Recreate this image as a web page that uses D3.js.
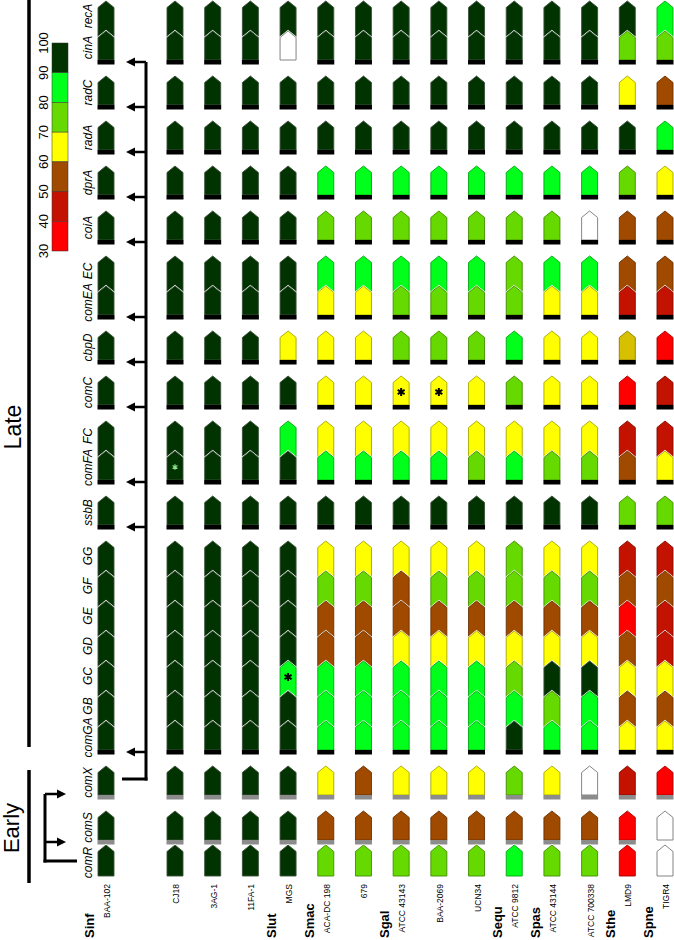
<!DOCTYPE html>
<html>
<head>
<meta charset="utf-8">
<script src="https://cdnjs.cloudflare.com/ajax/libs/d3/7.8.5/d3.min.js"></script>
<style>
body { margin: 0; background: #fff; }
svg text { font-family: Arial, "Liberation Sans", sans-serif; }
</style>
</head>
<body>
<svg width="674" height="940"></svg>
<script>
// strains (columns) and species groups
var strains = ["BAA-102", "CJ18", "3AG-1", "11FA-1", "MGS", "ACA-DC 198", "679",
  "ATCC 43143", "BAA-2069", "UCN34", "ATCC 9812", "ATCC 43144", "ATCC 700338", "LMD9", "TIGR4"];
var speciesNames = ["Sinf", "Slut", "Smac", "Sgal", "Sequ", "Spas", "Sthe", "Spne"];
var speciesFirst = ["BAA-102", "MGS", "ACA-DC 198", "ATCC 43143", "ATCC 9812", "ATCC 43144", "LMD9", "TIGR4"];

// genes (rows, top to bottom) and transcription units
var genes = ["recA", "cinA", "radC", "radA", "dprA", "coiA", "EC", "comEA", "cbpD", "comC",
  "FC", "comFA", "ssbB", "GG", "GF", "GE", "GD", "GC", "GB", "comGA", "comX", "comS", "comR"];
var units = [["recA", "cinA"], ["radC"], ["radA"], ["dprA"], ["coiA"], ["EC", "comEA"], ["cbpD"],
  ["comC"], ["FC", "comFA"], ["ssbB"], ["GG", "GF", "GE", "GD", "GC", "GB", "comGA"], ["comX"], ["comS", "comR"]];
var lateBox = ["cinA", "radC", "radA", "dprA", "coiA", "comEA", "cbpD", "comC", "comFA", "ssbB", "comGA"];
var earlyBox = ["comX", "comS"];
var noBox = [["MGS", "cinA"], ["TIGR4", "comS"]];

// % identity, one row per strain, same order as genes (null = gene absent)
var allHigh = genes.map(function () { return 95; });
var identity = [
  allHigh, allHigh, allHigh, allHigh,
  [95, null, 95, 95, 95, 95, 95, 95, 65, 95, 85, 95, 95, 95, 95, 95, 95, 85, 95, 95, 95, 95, 95],
  [95, 95, 95, 95, 85, 75, 85, 65, 65, 65, 65, 85, 95, 65, 75, 55, 55, 85, 85, 85, 65, 55, 75],
  [95, 95, 95, 95, 85, 75, 85, 65, 65, 65, 65, 85, 95, 65, 75, 55, 55, 85, 85, 85, 55, 55, 75],
  [95, 95, 95, 95, 85, 75, 85, 75, 75, 65, 65, 85, 95, 65, 55, 55, 65, 85, 85, 85, 65, 55, 75],
  [95, 95, 95, 95, 85, 75, 85, 75, 75, 65, 65, 85, 95, 65, 75, 55, 65, 85, 85, 85, 65, 55, 75],
  [95, 95, 95, 95, 85, 75, 85, 75, 75, 65, 65, 75, 95, 65, 75, 55, 65, 85, 85, 85, 65, 55, 75],
  [95, 95, 95, 95, 85, 75, 75, 75, 85, 75, 65, 85, 95, 75, 75, 55, 65, 75, 85, 95, 75, 55, 85],
  [95, 95, 95, 95, 85, 75, 85, 65, 65, 65, 65, 75, 95, 65, 75, 55, 65, 95, 75, 85, 65, 55, 75],
  [95, 95, 95, 95, 85, null, 85, 65, 65, 65, 65, 75, 95, 65, 75, 55, 65, 95, 85, 85, null, 55, 75],
  [95, 75, 65, 95, 75, 55, 55, 45, 60, 35, 45, 55, 75, 45, 55, 35, 55, 65, 55, 65, 45, 35, 35],
  [85, 75, 55, 85, 65, 55, 55, 45, 35, 45, 45, 65, 75, 45, 55, 45, 45, 65, 55, 65, 35, null, null]
];
var borderline = [["LMD9", "cbpD"]];
var asterisks = [["CJ18", "comFA"], ["MGS", "GC"], ["ATCC 43143", "comC"], ["BAA-2069", "comC"]];
var legendTicks = [100, 90, 80, 70, 60, 50, 40, 30];

var svg = d3.select("svg");
svg.append("rect").attr("width", 674).attr("height", 940).attr("fill", "#fff");

var color = d3.scaleThreshold()
  .domain([40, 50, 60, 70, 80, 90])
  .range(["#ff0000", "#c41200", "#a04a00", "#ffff00", "#66d900", "#00ff1a", "#003300"]);

// column positions (extra gap after the first strain for the regulation arrows)
var x = d3.scaleLinear().domain([1, strains.length - 1]).range([175, 665]);
function colX(i) { return i === 0 ? x(1) - 69 : x(i); }

// row positions
var tops = {}, nextOf = {}, pos = 0;
function hasBox(g) { return lateBox.indexOf(g) >= 0 || earlyBox.indexOf(g) >= 0; }
units.forEach(function (u, k) {
  u.forEach(function (g, j) {
    if (j === 0 && k > 0) pos += 45;
    if (j > 0) pos += hasBox(u[j - 1]) ? 34 : 30;
    tops[g] = pos;
    nextOf[g] = j < u.length - 1 ? u[j + 1] : null;
  });
});
var y = d3.scaleLinear().domain([0, pos]).range([1, 1 + pos]);

var hw = 8, tipH = 6.5;
function arrowPath(cx, t, b) {
  return "M" + cx + "," + t + "L" + (cx + hw) + "," + (t + tipH) + "L" + (cx + hw) + "," + b +
    "L" + (cx - hw) + "," + b + "L" + (cx - hw) + "," + (t + tipH) + "Z";
}
function inList(list, s, g) {
  return list.some(function (p) { return p[0] === s && p[1] === g; });
}
function geneBottom(g) {
  var t = y(tops[g]);
  if (hasBox(g)) return t + 29;
  if (nextOf[g]) return y(tops[nextOf[g]]) + tipH;
  return t + 31;
}

// gene arrows
var cells = svg.append("g");
strains.forEach(function (s, i) {
  var cx = colX(i);
  genes.forEach(function (g, j) {
    var v = identity[i][j];
    var t = y(tops[g]);
    var b = geneBottom(g);
    var fill = v == null ? "#fff" : (inList(borderline, s, g) ? "#d6c000" : color(v));
    var stroke = v == null ? "#777" : (v >= 90 ? "#3c4f3c" : d3.color(fill).darker(1.2));
    // thin white halo so the tip of a following gene shows a notch
    cells.append("path")
      .attr("d", arrowPath(cx, t, b))
      .attr("fill", "none")
      .attr("stroke", "#fff")
      .attr("stroke-width", 1.8);
    cells.append("path")
      .attr("d", arrowPath(cx, t, b))
      .attr("fill", fill)
      .attr("stroke", stroke)
      .attr("stroke-width", 0.9);
    if (hasBox(g) && !inList(noBox, s, g)) {
      cells.append("rect")
        .attr("x", cx - hw - 0.5).attr("y", t + 29)
        .attr("width", hw * 2 + 1).attr("height", 4.5)
        .attr("fill", earlyBox.indexOf(g) >= 0 ? "#8c8c8c" : "#000");
    }
    if (inList(asterisks, s, g)) {
      var small = s === "CJ18";
      cells.append("path")
        .attr("transform", "translate(" + cx + "," + (t + 16) + ")")
        .attr("d", d3.symbol().type(d3.symbolAsterisk).size(small ? 22 : 45)())
        .attr("stroke", small ? "#8be08b" : "#000")
        .attr("stroke-width", small ? 1.2 : 2)
        .attr("fill", "none");
    }
  });
});

// gene labels, centred on the gene body
genes.forEach(function (g) {
  var t = y(tops[g]);
  var b = hasBox(g) ? t + 33 : (nextOf[g] ? t + 30 : t + 35);
  svg.append("text")
    .attr("transform", "translate(92," + ((t + b) / 2) + ") rotate(-90)")
    .attr("text-anchor", "middle")
    .style("font-size", "12px")
    .style("font-style", "italic")
    .text(g);
});

// strain labels
strains.forEach(function (s, i) {
  svg.append("text")
    .attr("transform", "translate(" + (colX(i) + 4) + ",884) rotate(-90)")
    .attr("text-anchor", "end")
    .style("font-size", "8.5px")
    .text(s);
});

// species labels
speciesNames.forEach(function (n, k) {
  var i = strains.indexOf(speciesFirst[k]);
  svg.append("text")
    .attr("transform", "translate(" + (colX(i) - 12) + ",938) rotate(-90)")
    .attr("text-anchor", "start")
    .style("font-size", "13px")
    .style("font-weight", "bold")
    .text(n);
});

// colour legend
var legY = d3.scaleLinear().domain([100, 30]).range([43, 251]);
var leg = svg.append("g");
legendTicks.slice(0, -1).forEach(function (v, k) {
  var lo = legendTicks[k + 1];
  leg.append("rect")
    .attr("x", 52).attr("y", legY(v))
    .attr("width", 16).attr("height", legY(lo) - legY(v))
    .attr("fill", color((v + lo) / 2))
    .attr("stroke", "#333").attr("stroke-width", 0.5);
});
legendTicks.forEach(function (v) {
  leg.append("text")
    .attr("transform", "translate(48," + legY(v) + ") rotate(-90)")
    .attr("text-anchor", "middle")
    .style("font-size", "13px")
    .text(v);
});

// late / early brackets
function line(x1, y1, x2, y2, w) {
  svg.append("line")
    .attr("x1", x1).attr("y1", y1).attr("x2", x2).attr("y2", y2)
    .attr("stroke", "#000").attr("stroke-width", w || 3);
}
line(29, 0, 29, y(tops["comGA"]) + 26, 3.5);
line(29, y(tops["comX"]) + 4, 29, y(tops["comR"]) + 38, 3.5);
svg.append("text")
  .attr("transform", "translate(21,427) rotate(-90)")
  .attr("text-anchor", "middle")
  .style("font-size", "23px")
  .text("Late");
svg.append("text")
  .attr("transform", "translate(19,828) rotate(-90)")
  .attr("text-anchor", "middle")
  .style("font-size", "22px")
  .text("Early");

// late regulation (ComX -> late promoters)
var lateX = 146;
var comXY = y(tops["comX"]) + 13;
line(lateX, y(tops["cinA"]) + 31, lateX, comXY + 1.5);
line(122, comXY, lateX + 1.5, comXY);
lateBox.forEach(function (g) {
  var gy = y(tops[g]) + 31;
  line(lateX, gy, 132, gy, 2.5);
  svg.append("path")
    .attr("d", "M126," + gy + "L135," + (gy - 4.5) + "L135," + (gy + 4.5) + "Z")
    .attr("fill", "#000");
});

// early regulation (ComR -> early promoters)
var earlyX = 45;
var comRY = y(tops["comR"]) + 16;
line(earlyX, y(tops["comX"]) + 28, earlyX, comRY + 1.5);
line(earlyX - 1.5, comRY, 77, comRY);
earlyBox.forEach(function (g) {
  var gy = y(tops[g]) + (g === "comX" ? 28 : 31);
  line(earlyX, gy, 59, gy, 2.5);
  svg.append("path")
    .attr("d", "M66," + gy + "L57," + (gy - 4.5) + "L57," + (gy + 4.5) + "Z")
    .attr("fill", "#000");
});
</script>
</body>
</html>
